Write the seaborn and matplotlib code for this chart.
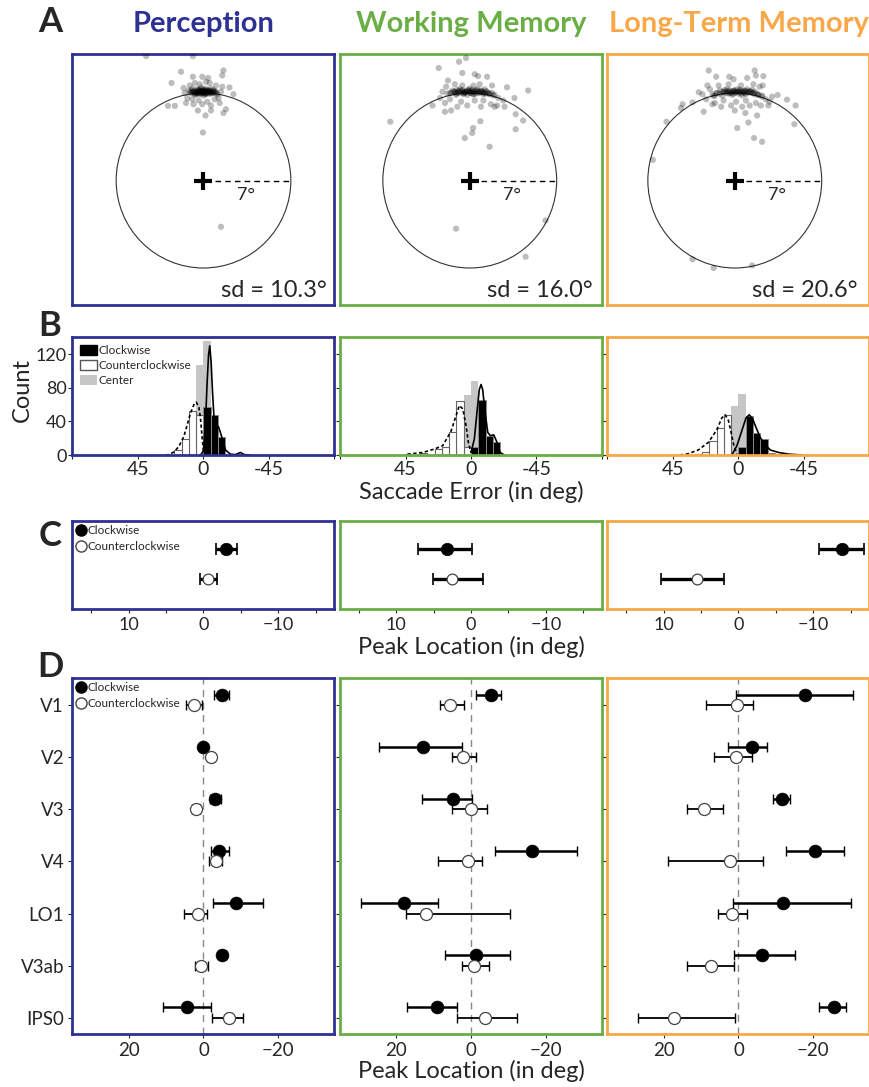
import numpy as np
import pandas as pd
import matplotlib
matplotlib.use("Agg")
import matplotlib.pyplot as plt
import seaborn as sns
from matplotlib.patches import Circle, Patch
from matplotlib.lines import Line2D

sns.set_style("ticks")
plt.rcParams["font.family"] = ["Lato", "DejaVu Sans"]

# ---------------- data ----------------
conditions = ["Perception", "Working Memory", "Long-Term Memory"]
cond_colors = ["#2E3192", "#6AAE45", "#F8A848"]
sd_labels = ["sd = 10.3°", "sd = 16.0°", "sd = 20.6°"]
RADIUS = 7

# Panel A: saccade endpoints (deg)
perc_x = [-0.2, 0.0, -0.4, 0.3, -0.6, 0.5, -0.1, 0.2, -0.8, 0.7, -0.3, 0.1, -0.5, 0.4, -1.0, 0.9,
          -0.7, 0.6, -0.2, 0.0, -1.2, 1.1, -0.9, 0.8, -0.35, 0.25, -0.05, 0.15, -0.55, 0.45,
          -0.6, -0.3, 0.0, 0.3, 0.6, -0.9, 0.9, -0.45, -0.15, 0.15, 0.45, -0.75, 0.75, -1.05, 1.05,
          -0.2, 0.1, -0.4, 0.35, -0.65, 0.6, -0.1, 0.2, -0.3, 0.0,
          -0.5, -0.25, 0.05, 0.3, 0.55, -0.8, 0.8, -0.1, 0.2, -0.45, 0.4, -0.7, 0.65, 0.0, -0.3,
          0.25, -0.95, 0.95, -0.15, 0.1,
          -1.5, 1.4, -1.3, 1.2, -1.6, 1.5, -0.9, 0.9, -0.4, 0.3, -1.1, 1.0, -0.3, 0.5, -0.7, 0.2,
          -1.4, 1.3, -0.1, 0.6, -0.8,
          -4.6, -0.85, -1.8, 1.6, 1.5, -2.56, -0.85, -0.1, 0.37, 2.08, 2.4, -2.85, -2.3, -0.45,
          0.16, 0.6, 1.6, 1.8, -0.05, 1.4]
perc_y = [7.1, 7.0, 7.2, 7.1, 7.0, 7.2, 7.3, 6.9, 7.1, 7.0, 6.9, 7.2, 7.3, 6.95, 7.0, 7.1,
          6.85, 7.35, 7.45, 6.8, 7.2, 6.9, 7.35, 7.25, 7.05, 7.0, 7.15, 7.35, 6.9, 7.05,
          7.1, 7.15, 7.1, 7.05, 7.1, 7.05, 7.0, 7.0, 7.05, 7.1, 7.15, 7.2, 7.15, 7.1, 7.0,
          6.95, 6.9, 7.25, 7.2, 6.95, 6.95, 7.2, 7.25, 7.0, 7.05,
          7.05, 7.1, 7.15, 7.1, 7.05, 7.1, 7.1, 7.0, 7.0, 7.15, 7.2, 7.0, 7.0, 7.2, 7.25,
          7.1, 7.2, 7.15, 7.1, 7.05,
          7.0, 7.1, 6.6, 6.6, 7.4, 7.5, 6.5, 6.5, 6.4, 6.3, 7.6, 7.6, 7.7, 7.8, 7.8, 7.9,
          6.2, 6.2, 6.1, 6.0, 6.1,
          9.95, 9.95, 8.7, 8.8, 8.4, 7.8, 8.3, 8.3, 8.2, 7.44, 6.9, 5.97, 5.97, 5.6,
          5.2, 5.6, 5.4, 5.7, 3.84, -3.7]

wm_x = [-0.3, 0.1, -0.6, 0.4, -0.9, 0.7, -1.2, 1.0, -0.1, 0.3, -0.5, 1.3, -1.5, 1.6, 0.0, -0.8,
        0.6, -0.2, 0.9, -1.1, 1.9, -1.8, 0.2, -0.4, 1.2,
        -1.6, -1.2, -0.8, -0.4, 0.0, 0.4, 0.8, 1.2, 1.6, 2.0, -1.4, -1.0, -0.6, -0.2, 0.2, 0.6,
        1.0, 1.4, 1.8, -0.5, 0.5, 0.0, -1.1, 1.1, 0.3,
        -1.3, -0.9, -0.5, -0.1, 0.3, 0.7, 1.1, 1.5, -0.7, 0.1, 0.5, 0.9, -0.3, -1.0, 1.3,
        -2.2, 2.3, 2.7, -1.9, 1.8, -1.2, 0.8, -0.6, 0.3, -1.6, 1.1, -0.7, 0.4, -2.0, 1.7, -0.2,
        0.9, -1.0, 2.2, -2.4,
        -0.3, -0.86, -2.5, -0.6, 0.4, 0.67, 1.4, -1.75, 3.0, 4.7, 3.6, -3.0, -2.0, -1.5, 2.0,
        2.8, 3.7, 4.3, 0.86, 0.27, 0.2, -0.4, 3.7, -6.4, 1.6, -1.1, 6.1, 4.5]
wm_y = [7.1, 7.0, 7.15, 7.1, 7.05, 7.0, 7.1, 7.05, 7.25, 6.9, 6.9, 6.95, 7.0, 6.9, 7.35, 7.3,
        7.3, 6.85, 7.2, 6.85, 6.8, 6.95, 7.15, 7.0, 7.3,
        7.0, 7.1, 7.15, 7.1, 7.15, 7.1, 7.05, 7.0, 6.95, 6.85, 7.2, 7.25, 7.25, 7.2, 7.25, 7.2,
        7.15, 7.1, 7.0, 7.0, 6.95, 7.0, 6.95, 6.9, 6.9,
        7.1, 7.15, 7.1, 7.15, 7.1, 7.1, 7.05, 7.0, 7.0, 7.05, 7.2, 7.1, 7.05, 7.0, 7.15,
        7.1, 6.6, 6.4, 7.5, 7.6, 7.7, 7.7, 7.6, 7.6, 6.5, 6.4, 6.3, 6.4, 6.2, 6.1, 6.0,
        5.9, 5.9, 6.0, 6.6,
        9.8, 9.5, 9.0, 8.6, 8.5, 8.35, 8.3, 8.0, 7.46, 7.2, 6.6, 6.0, 5.5, 5.6, 5.9,
        5.9, 5.3, 4.8, 4.74, 4.2, 3.8, 3.4, 4.1, 4.7, 2.7, -3.85, -3.2, -6.1]

ltm_x = [0.0, 0.4, -0.4, 0.8, -0.8, 1.2, -1.2, 1.6, 0.2, -0.2, 0.6, -0.6, 1.0, -1.0, 1.9, -1.5,
         0.3, -0.1, 1.4, -1.7, 2.2, 0.7,
         -1.8, -1.4, -1.0, -0.6, -0.2, 0.2, 0.6, 1.0, 1.4, 1.8, 2.2, -1.2, -0.8, -0.4, 0.0, 0.4,
         0.8, 1.2, 1.6, -0.1, 0.5, -0.5, 0.9, 1.9, -1.6,
         -0.9, -0.5, -0.1, 0.3, 0.7, 1.1, 1.5, -0.3, 0.1, 0.5, 0.9, -0.7, 1.3,
         -2.0, 2.5, -2.3, 2.8, -1.3, 0.5, 1.5, -0.5, -0.9, 0.9, 0.1, -1.6, 1.7, -0.3, 0.6, 2.0,
         -2.6, 3.0, 1.2, -1.1,
         -2.1, -1.5, -0.44, -0.1, 1.0, 1.6, 1.7, 2.3, -2.2, 2.25, -2.9, 3.45, 4.2, 4.9, -4.2,
         -3.4, -4.34, -2.5, -1.8, 0.0, 0.85, 1.8, 2.7, 2.1, 1.1, 0.2, -5.5, 4.8, 1.55, 2.2,
         -6.6, -3.4, -1.7, 1.4]
ltm_y = [7.05, 7.1, 7.0, 7.0, 7.1, 7.05, 6.95, 6.9, 7.3, 6.85, 6.8, 7.3, 7.3, 6.8, 6.85, 7.0,
         6.95, 7.2, 7.25, 6.75, 6.7, 7.15,
         6.9, 7.0, 7.1, 7.15, 7.1, 7.1, 7.1, 7.05, 7.0, 6.95, 6.8, 7.2, 7.25, 7.2, 7.2, 7.25,
         7.2, 7.15, 7.1, 6.95, 6.95, 6.95, 6.9, 6.85, 6.8,
         7.1, 7.1, 7.15, 7.1, 7.05, 7.1, 7.0, 7.0, 7.05, 7.2, 7.15, 7.0, 7.1,
         7.3, 6.5, 6.5, 6.3, 7.6, 7.6, 7.7, 7.7, 6.4, 6.4, 6.3, 6.2, 6.2, 6.0, 5.9, 7.5,
         6.9, 6.7, 6.0, 5.9,
         8.8, 8.3, 8.3, 8.1, 8.2, 8.8, 8.4, 8.35, 7.6, 7.6, 7.06, 6.84, 6.47, 6.0, 6.1,
         6.25, 5.8, 5.5, 6.1, 5.6, 5.4, 5.2, 6.0, 6.0, 4.64, 4.2, 4.7, 4.5, 3.4, 3.1,
         1.65, -6.3, -7.0, -6.8]
scatter_x = [perc_x, wm_x, ltm_x]
scatter_y = [perc_y, wm_y, ltm_y]

# Panel B: histograms (5-deg bins, centers)
bin_centers = [-27.5, -22.5, -17.5, -12.5, -7.5, -2.5, 2.5, 7.5, 12.5, 17.5, 22.5, 27.5, 32.5, 37.5, 42.5]
perc_cw = [0, 0, 0, 22, 48, 57, 0, 0, 0, 0, 0, 0, 0, 0, 0]
perc_ccw = [0, 0, 0, 0, 0, 0, 48, 53, 19, 6, 0, 0, 0, 0, 0]
perc_center = [0, 0, 0, 0, 0, 136, 107, 0, 0, 0, 0, 0, 0, 0, 0]
wm_cw = [0, 0, 16, 23, 65, 10, 0, 0, 0, 0, 0, 0, 0, 0, 0]
wm_ccw = [0, 0, 0, 0, 0, 0, 10, 64, 28, 9, 7, 0, 2, 0, 1]
wm_center = [0, 0, 0, 0, 0, 88, 71, 0, 0, 0, 0, 0, 0, 0, 0]
ltm_cw = [1, 2, 19, 26, 47, 10, 0, 0, 0, 0, 0, 0, 0, 0, 0]
ltm_ccw = [0, 0, 0, 0, 0, 0, 0, 48, 32, 17, 3, 1, 0, 0, 0]
ltm_center = [0, 0, 0, 0, 0, 73, 58, 0, 0, 0, 0, 0, 0, 0, 0]
hist_cw = [perc_cw, wm_cw, ltm_cw]
hist_ccw = [perc_ccw, wm_ccw, ltm_ccw]
hist_center = [perc_center, wm_center, ltm_center]

# fitted curves (deg, count)
perc_fit_cw_x = [2, 0, -1.4, -2.5, -3.5, -4.3, -5.2, -6.2, -7.1, -8.5, -10.5, -12.8, -15.1, -18.5, -22, -25.4, -28, -32]
perc_fit_cw_y = [0, 5, 40, 87, 120, 130, 112, 75, 48, 37, 33, 20, 6, 1, 0.5, 3, 0.5, 0]
perc_fit_ccw_x = [26, 23.8, 20.4, 17, 13.5, 11.2, 8.9, 6.6, 5.0, 3.2, 2.1, 0.9, 0, -1]
perc_fit_ccw_y = [0, 0.5, 3.5, 10, 22, 36, 50, 60, 63, 57, 44, 20, 4, 0]
wm_fit_cw_x = [0, -2.3, -4.1, -5.7, -6.9, -8.0, -9.7, -11.5, -13.3, -15.6, -17.9, -20, -23]
wm_fit_cw_y = [3, 19, 51, 78, 84, 78, 51, 27, 23, 24, 15, 3, 0]
wm_fit_ccw_x = [43.7, 33.3, 25.3, 19.5, 13.8, 11, 8, 5.7, 3.4, 1.8, 0]
wm_fit_ccw_y = [1, 3, 7, 11, 28, 43, 59, 55, 35, 15, 3]
ltm_fit_cw_x = [4.6, 1.1, -2.3, -5.1, -7.4, -9.7, -12, -14.9, -17.9, -21.8, -27.6, -34.5, -43.7]
ltm_fit_cw_y = [0, 11, 29, 44, 48, 43, 33, 21, 13, 6, 3, 1, 0]
ltm_fit_ccw_x = [40.2, 34.5, 27.6, 20.7, 14.9, 11.5, 9.2, 6.9, 5.1, 3.4, 1.1]
ltm_fit_ccw_y = [0, 1.6, 6, 15, 30, 44, 48, 41, 27, 13, 1]
fit_cw = [(perc_fit_cw_x, perc_fit_cw_y), (wm_fit_cw_x, wm_fit_cw_y), (ltm_fit_cw_x, ltm_fit_cw_y)]
fit_ccw = [(perc_fit_ccw_x, perc_fit_ccw_y), (wm_fit_ccw_x, wm_fit_ccw_y), (ltm_fit_ccw_x, ltm_fit_ccw_y)]

# Panel C: peak location from saccades
c_cw_mean = [-3.0, 3.2, -13.8]
c_cw_lo = [-4.5, -0.15, -16.8]
c_cw_hi = [-1.7, 7.1, -10.7]
c_ccw_mean = [-0.65, 2.5, 5.6]
c_ccw_lo = [-1.8, -1.6, 2.0]
c_ccw_hi = [0.45, 5.1, 10.3]

# Panel D: peak location per ROI
rois = ["V1", "V2", "V3", "V4", "LO1", "V3ab", "IPS0"]
perc_d_cw = [-5.0, 0.0, -3.0, -4.2, -8.6, -5.0, 4.5]
perc_d_cw_lo = [-6.7, -0.8, -4.6, -6.9, -15.8, -5.9, -2.0]
perc_d_cw_hi = [-2.8, 0.8, -1.7, -2.05, -2.6, -4.1, 10.9]
perc_d_ccw = [2.5, -2.05, 2.05, -3.3, 1.6, 0.7, -6.8]
perc_d_ccw_lo = [0.36, -2.9, 1.0, -4.9, -1.0, -1.2, -10.6]
perc_d_ccw_hi = [4.6, -1.2, 3.1, -1.5, 5.2, 2.4, -2.3]
wm_d_cw = [-5.3, 12.7, 4.8, -16.3, 17.8, -1.4, 9.1]
wm_d_cw_lo = [-7.9, 2.3, -0.36, -28.3, 8.75, -10.4, 3.8]
wm_d_cw_hi = [-1.4, 24.6, 13.0, -6.5, 29.4, 7.0, 17.2]
wm_d_ccw = [5.6, 2.1, 0.0, 0.9, 12.1, -0.7, -3.7]
wm_d_ccw_lo = [1.9, -1.25, -4.2, -2.9, -10.4, -4.8, -12.4]
wm_d_ccw_hi = [8.2, 5.0, 5.0, 8.9, 17.3, 2.5, 3.8]
ltm_d_cw = [-17.8, -3.5, -11.5, -20.5, -12.0, -6.4, -25.6]
ltm_d_cw_lo = [-30.6, -7.7, -13.7, -28.2, -30.0, -15.2, -28.7]
ltm_d_cw_hi = [0.8, 2.7, -9.1, -12.6, 1.5, 1.2, -21.5]
ltm_d_ccw = [0.3, 0.7, 9.1, 2.4, 1.8, 7.4, 17.1]
ltm_d_ccw_lo = [-4.0, -3.5, 4.2, -6.5, -2.2, 1.3, 1.0]
ltm_d_ccw_hi = [8.6, 6.5, 13.7, 18.9, 5.5, 13.8, 26.9]
d_cw = [(perc_d_cw, perc_d_cw_lo, perc_d_cw_hi), (wm_d_cw, wm_d_cw_lo, wm_d_cw_hi),
        (ltm_d_cw, ltm_d_cw_lo, ltm_d_cw_hi)]
d_ccw = [(perc_d_ccw, perc_d_ccw_lo, perc_d_ccw_hi), (wm_d_ccw, wm_d_ccw_lo, wm_d_ccw_hi),
         (ltm_d_ccw, ltm_d_ccw_lo, ltm_d_ccw_hi)]

# ---------------- layout ----------------
W, H = 870, 1087
fig = plt.figure(figsize=(W / 100, H / 100), dpi=100)


def add_ax(left_px, top_px, w_px, h_px):
    return fig.add_axes([left_px / W, 1 - (top_px + h_px) / H, w_px / W, h_px / H])


col_left = [72.5, 340, 607.5]
col_w = 262
A_xlims = [(-10.5, 10.5), (-10.45, 10.65), (-10.25, 10.85)]


def style_spines(ax, color):
    for s in ax.spines.values():
        s.set_color(color)
        s.set_linewidth(2.0)


TICK_FS = 13
for i in range(3):
    color = cond_colors[i]
    # ---- A ----
    ax = add_ax(col_left[i], 54, col_w, 251)
    sns.scatterplot(x=scatter_x[i], y=scatter_y[i], ax=ax, color="black", alpha=0.26,
                    s=20, edgecolor="none", legend=False, zorder=3)
    ax.add_patch(Circle((0, 0), RADIUS, fill=False, ec="#333333", lw=0.8, zorder=2))
    ax.plot([0.9, RADIUS], [0, 0], color="black", lw=1.0, ls=(0, (4, 3)), zorder=2)
    ax.plot(0, 0, marker="+", ms=13, mew=3.0, color="black", zorder=4)
    ax.text(3.4, -1.2, "7°", ha="center", va="center", fontsize=13)
    ax.text(9.9, -9.3, sd_labels[i], ha="right", va="baseline", fontsize=17)
    ax.set_xlim(*A_xlims[i])
    ax.set_ylim(-9.96, 10.12)
    ax.set_xticks([])
    ax.set_yticks([])
    ax.set_xlabel("")
    ax.set_ylabel("")
    style_spines(ax, color)
    fig.text((col_left[i] + col_w / 2) / W, 1 - 24 / H, conditions[i], ha="center", va="center",
             fontsize=21, fontweight="bold", color=color)

    # ---- B ----
    ax = add_ax(col_left[i], 337.5, col_w, 117.5)
    sns.histplot(x=bin_centers, weights=hist_center[i], binwidth=5, binrange=(-30, 45),
                 color="#c6c6c6", alpha=1, edgecolor="none", linewidth=0, ax=ax)
    sns.histplot(x=bin_centers, weights=hist_ccw[i], binwidth=5, binrange=(-30, 45),
                 color="white", alpha=1, edgecolor="#666666", linewidth=0.8, ax=ax)
    sns.histplot(x=bin_centers, weights=hist_cw[i], binwidth=5, binrange=(-30, 45),
                 color="black", alpha=1, edgecolor="#888888", linewidth=0.7, ax=ax)
    sns.lineplot(x=fit_cw[i][0], y=fit_cw[i][1], ax=ax, color="black", lw=1.2,
                 sort=False, estimator=None)
    sns.lineplot(x=fit_ccw[i][0], y=fit_ccw[i][1], ax=ax, color="black", lw=1.2,
                 linestyle=(0, (2, 1.5)), sort=False, estimator=None)
    ax.set_xlim(90, -90)
    ax.set_ylim(0, 140)
    ax.set_xticks([90, 45, 0, -45, -90])
    ax.set_xticklabels(["", "45", "0", "-45", ""], fontsize=14)
    ax.set_yticks([0, 40, 80, 120])
    if i == 0:
        ax.set_yticklabels(["0", "40", "80", "120"], fontsize=TICK_FS)
        handles = [Patch(facecolor="black", edgecolor="black", label="Clockwise"),
                   Patch(facecolor="white", edgecolor="#555555", label="Counterclockwise"),
                   Patch(facecolor="#c6c6c6", edgecolor="none", label="Center")]
        ax.legend(handles=handles, loc="upper left", frameon=False, fontsize=8.5,
                  handlelength=1.4, handleheight=0.9, handletextpad=0.15,
                  labelspacing=0.35, borderaxespad=0.25)
    else:
        ax.set_yticklabels([])
    ax.tick_params(length=3, width=0.8, pad=1)
    ax.set_xlabel("")
    ax.set_ylabel("")
    style_spines(ax, color)

    # ---- C ----
    ax = add_ax(col_left[i], 521, col_w, 88)
    ax.errorbar([c_cw_mean[i]], [0],
                xerr=[[c_cw_mean[i] - c_cw_lo[i]], [c_cw_hi[i] - c_cw_mean[i]]],
                fmt="none", ecolor="black", elinewidth=2.4, capsize=4, capthick=1.2, zorder=2)
    ax.errorbar([c_ccw_mean[i]], [1],
                xerr=[[c_ccw_mean[i] - c_ccw_lo[i]], [c_ccw_hi[i] - c_ccw_mean[i]]],
                fmt="none", ecolor="black", elinewidth=2.4, capsize=4, capthick=1.2, zorder=2)
    sns.scatterplot(x=[c_cw_mean[i]], y=[0], ax=ax, color="black", s=80, edgecolor="black",
                    linewidth=0.5, zorder=3, legend=False)
    sns.scatterplot(x=[c_ccw_mean[i]], y=[1], ax=ax, color="white", s=60, edgecolor="#444444",
                    linewidth=0.9, zorder=3, legend=False)
    ax.set_xlim(17.5, -17.5)
    ax.set_ylim(2.03, -0.97)
    ax.set_xticks([10, 0, -10])
    ax.set_xticklabels(["10", "0", "\u221210"], fontsize=TICK_FS)
    ax.set_xticks([15, 5, -5, -15], minor=True)
    ax.set_yticks([])
    ax.tick_params(axis="x", which="both", length=3, width=0.8, pad=3)
    ax.set_xlabel("")
    ax.set_ylabel("")
    if i == 0:
        handles = [Line2D([], [], marker="o", ls="none", color="black", ms=8, label="Clockwise"),
                   Line2D([], [], marker="o", ls="none", mfc="white", mec="#444444", ms=8,
                          label="Counterclockwise")]
        ax.legend(handles=handles, loc="upper left", frameon=False, fontsize=8.5,
                  handlelength=0.8, handletextpad=0.1, labelspacing=0.4, borderaxespad=0.15,
                  borderpad=0.2)
    style_spines(ax, color)

    # ---- D ----
    ax = add_ax(col_left[i], 678, col_w, 356)
    ypos = np.arange(len(rois))
    ax.axvline(0, color="#888888", lw=1.0, ls=(0, (5, 4)), zorder=0)
    m, lo, hi = (np.array(v) for v in d_cw[i])
    ax.errorbar(m, ypos - 0.2, xerr=[m - lo, hi - m], fmt="none", ecolor="black",
                elinewidth=1.8, capsize=3.5, capthick=1.0, zorder=2)
    m2, lo2, hi2 = (np.array(v) for v in d_ccw[i])
    ax.errorbar(m2, ypos, xerr=[m2 - lo2, hi2 - m2], fmt="none", ecolor="black",
                elinewidth=1.3, capsize=3.5, capthick=1.0, zorder=2)
    sns.scatterplot(x=m, y=ypos - 0.2, ax=ax, color="black", s=85, edgecolor="black",
                    linewidth=0.5, zorder=3, legend=False)
    sns.scatterplot(x=m2, y=ypos, ax=ax, color="white", s=75, edgecolor="#444444",
                    linewidth=0.9, zorder=3, legend=False)
    ax.set_xlim(35, -35)
    ax.set_ylim(6.31, -0.52)
    ax.set_xticks([20, 0, -20])
    ax.set_xticklabels(["20", "0", "\u221220"], fontsize=TICK_FS + 0.5)
    ax.set_yticks(ypos)
    if i == 0:
        ax.set_yticklabels(rois, fontsize=TICK_FS + 0.5)
        handles = [Line2D([], [], marker="o", ls="none", color="black", ms=8, label="Clockwise"),
                   Line2D([], [], marker="o", ls="none", mfc="white", mec="#444444", ms=8,
                          label="Counterclockwise")]
        ax.legend(handles=handles, loc="upper left", frameon=False, fontsize=8.5,
                  handlelength=0.8, handletextpad=0.1, labelspacing=0.4, borderaxespad=0.15,
                  borderpad=0.2)
    else:
        ax.set_yticklabels([])
    ax.tick_params(length=3, width=0.8, pad=3)
    ax.set_xlabel("")
    ax.set_ylabel("")
    style_spines(ax, color)

# panel letters and shared labels
for letter, (xp, yp) in zip("ABCD", [(50, 22), (50, 326), (50, 536), (50, 667)]):
    fig.text(xp / W, 1 - yp / H, letter, ha="center", va="center", fontsize=25,
             fontweight="bold")
fig.text(22 / W, 1 - 390 / H, "Count", rotation=90, ha="center", va="center", fontsize=17)
fig.text(471 / W, 1 - 492 / H, "Saccade Error (in deg)", ha="center", va="center", fontsize=17)
fig.text(471 / W, 1 - 647 / H, "Peak Location (in deg)", ha="center", va="center", fontsize=17)
fig.text(471 / W, 1 - 1071 / H, "Peak Location (in deg)", ha="center", va="center", fontsize=17)

fig.savefig("out.png", dpi=100)
